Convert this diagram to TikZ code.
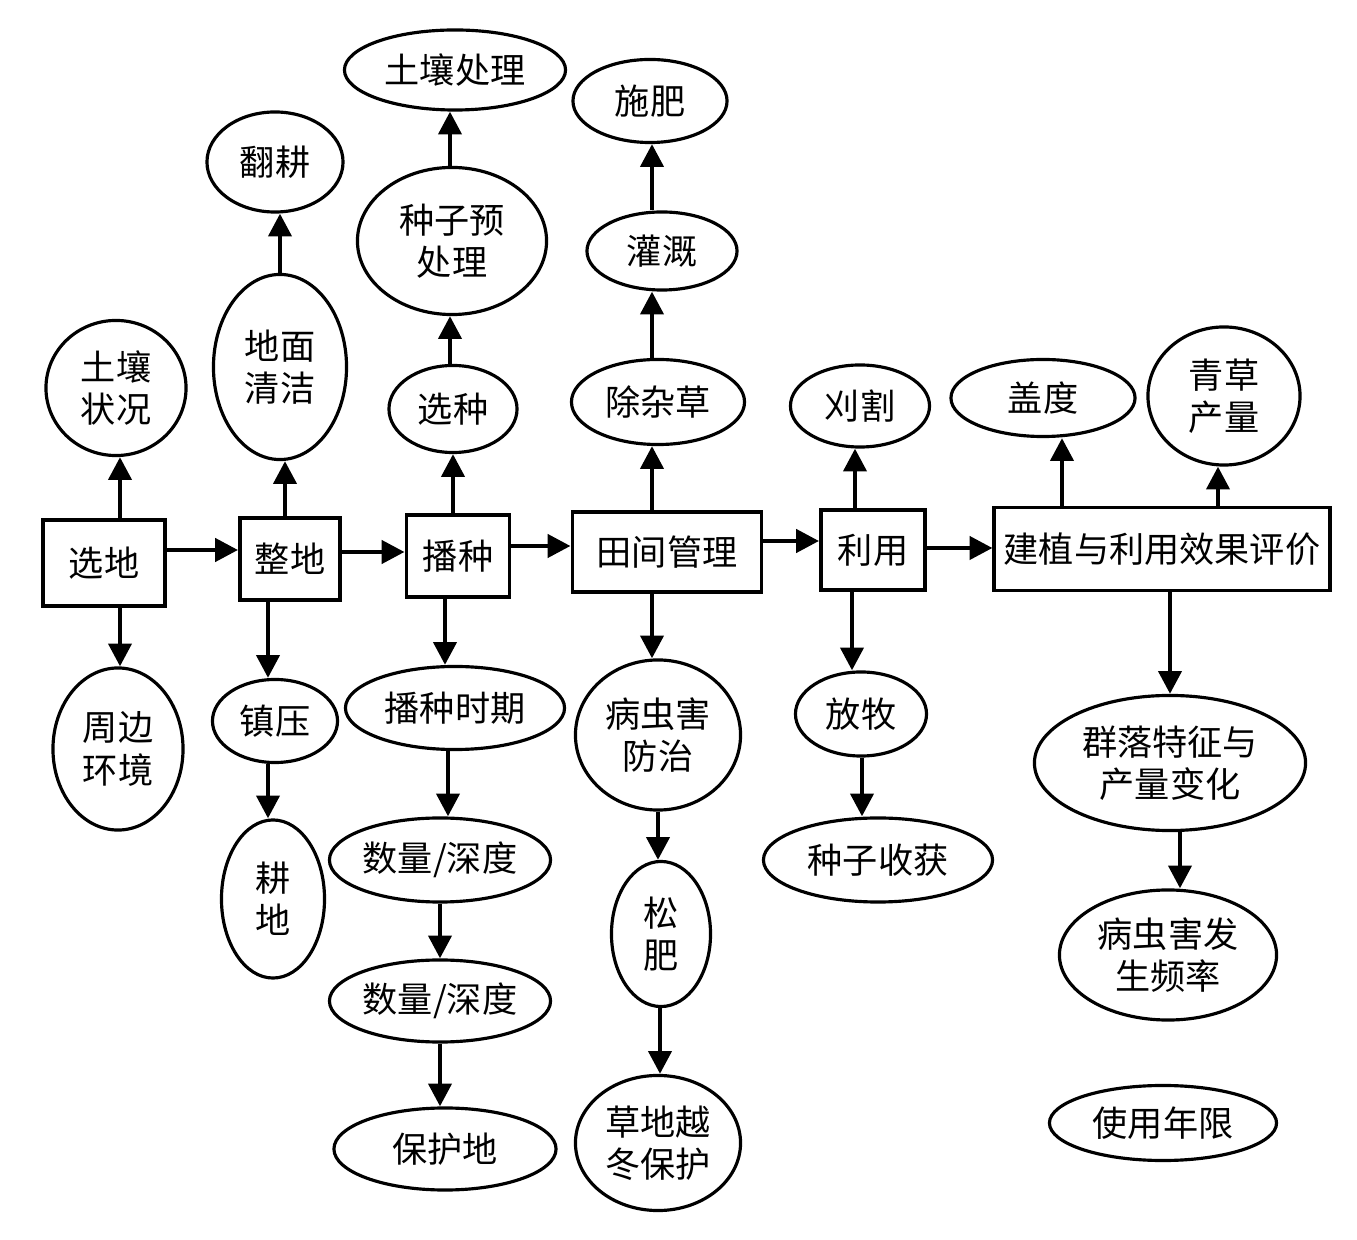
\documentclass[tikz,border=0pt]{standalone}
\usepackage{fontspec}
\setmainfont{Noto Sans CJK SC}
\usetikzlibrary{shapes.geometric,arrows.meta}
\begin{document}
\begin{tikzpicture}[x=0.01cm,y=-0.01cm,
  txt/.style={font=\fontsize{10pt}{12pt}\selectfont,align=center,inner sep=0pt,text=black},
  box/.style={txt,draw,line width=1.1pt,rectangle},
  ell/.style={txt,draw,line width=0.9pt,ellipse},
  arr/.style={line width=1.3pt,-{Triangle[length=6.5pt,width=6.5pt]}}]
\useasboundingbox[fill=white] (0,0) rectangle (1357,1240);
% boxes
\node[box,minimum width=1.22cm,minimum height=0.86cm] (xd) at (104,563) {选地};
\node[box,minimum width=1.00cm,minimum height=0.82cm] (zd) at (290,559) {整地};
\node[box,minimum width=1.03cm,minimum height=0.82cm] (bz) at (458,556) {播种};
\node[box,minimum width=1.89cm,minimum height=0.80cm] (tj) at (667,552) {田间管理};
\node[box,minimum width=1.04cm,minimum height=0.80cm] (ly) at (873,550) {利用};
\node[box,minimum width=3.35cm,minimum height=0.83cm] (jz) at (1162,549) {建植与利用效果评价};
% ellipses
\node[ell,minimum width=1.40cm,minimum height=1.35cm] (trzk) at (116,388) {土壤\\状况};
\node[ell,minimum width=1.30cm,minimum height=1.62cm] (zbhj) at (118,749) {周边\\环境};
\node[ell,minimum width=1.33cm,minimum height=1.85cm] (dmqj) at (280,367) {地面\\清洁};
\node[ell,minimum width=1.36cm,minimum height=1.00cm] (fg) at (275,162) {翻耕};
\node[ell,minimum width=1.25cm,minimum height=0.83cm] (zy) at (275,721) {镇压};
\node[ell,minimum width=1.03cm,minimum height=1.58cm] (gd) at (273,899) {耕\\地};
\node[ell,minimum width=1.28cm,minimum height=0.87cm] (xz) at (453,409) {选种};
\node[ell,minimum width=1.89cm,minimum height=1.47cm] (zzycl) at (452,241) {种子预\\处理};
\node[ell,minimum width=2.21cm,minimum height=0.80cm] (trcl) at (455,70) {土壤处理};
\node[ell,minimum width=2.19cm,minimum height=0.83cm] (bzsq) at (455,708) {播种时期};
\node[ell,minimum width=2.21cm,minimum height=0.84cm] (sl1) at (440,860) {数量/深度};
\node[ell,minimum width=2.21cm,minimum height=0.82cm] (sl2) at (440,1001) {数量/深度};
\node[ell,minimum width=2.22cm,minimum height=0.82cm] (bhd) at (445,1149) {保护地};
\node[ell,minimum width=1.73cm,minimum height=0.85cm] (czc) at (658,402) {除杂草};
\node[ell,minimum width=1.50cm,minimum height=0.78cm] (gg) at (662,251) {灌溉};
\node[ell,minimum width=1.54cm,minimum height=0.83cm] (sf) at (650,101) {施肥};
\node[ell,minimum width=1.65cm,minimum height=1.50cm] (bch) at (658,735) {病虫害\\防治};
\node[ell,minimum width=0.99cm,minimum height=1.45cm] (sfei) at (661,934) {松\\肥};
\node[ell,minimum width=1.65cm,minimum height=1.35cm] (cd) at (658,1143) {草地越\\冬保护};
\node[ell,minimum width=1.39cm,minimum height=0.82cm] (yg) at (860,406) {刈割};
\node[ell,minimum width=1.31cm,minimum height=0.84cm] (fm) at (861,714) {放牧};
\node[ell,minimum width=2.29cm,minimum height=0.84cm] (zzsh) at (878,860) {种子收获};
\node[ell,minimum width=1.84cm,minimum height=0.77cm] (gaidu) at (1043,398) {盖度};
\node[ell,minimum width=1.52cm,minimum height=1.38cm] (qccl) at (1224,396) {青草\\产量};
\node[ell,minimum width=2.71cm,minimum height=1.35cm] (qlbh) at (1170,763) {群落特征与\\产量变化};
\node[ell,minimum width=2.17cm,minimum height=1.30cm] (bcfs) at (1168,955) {病虫害发\\生频率};
\node[ell,minimum width=2.27cm,minimum height=0.75cm] (synx) at (1163,1123) {使用年限};
% horizontal arrows
\draw[arr] (xd.east |- 0,550) -- (zd.west |- 0,550);
\draw[arr] (zd.east |- 0,552) -- (bz.west |- 0,552);
\draw[arr] (bz.east |- 0,546) -- (tj.west |- 0,546);
\draw[arr] (tj.east |- 0,541) -- (ly.west |- 0,541);
\draw[arr] (ly.east |- 0,548) -- (jz.west |- 0,548);
% vertical arrows
\draw[arr] (xd.north -| 120,0) -- (trzk.south -| 120,0);
\draw[arr] (xd.south -| 120,0) -- (zbhj.north -| 120,0);
\draw[arr] (zd.north -| 285,0) -- (dmqj.south -| 285,0);
\draw[arr] (dmqj.north -| 280,0) -- (fg.south -| 280,0);
\draw[arr] (zd.south -| 268,0) -- (zy.north -| 268,0);
\draw[arr] (zy.south -| 268,0) -- (gd.north -| 268,0);
\draw[arr] (bz.north -| 453,0) -- (xz.south -| 453,0);
\draw[arr] (xz.north -| 450,0) -- (zzycl.south -| 450,0);
\draw[arr] (zzycl.north -| 450,0) -- (trcl.south -| 450,0);
\draw[arr] (bz.south -| 445,0) -- (bzsq.north -| 445,0);
\draw[arr] (bzsq.south -| 448,0) -- (sl1.north -| 448,0);
\draw[arr] (sl1.south -| 440,0) -- (sl2.north -| 440,0);
\draw[arr] (sl2.south -| 440,0) -- (bhd.north -| 440,0);
\draw[arr] (tj.north -| 652,0) -- (czc.south -| 652,0);
\draw[arr] (czc.north -| 652,0) -- (gg.south -| 652,0);
\draw[arr] (gg.north -| 652,0) -- (sf.south -| 652,0);
\draw[arr] (tj.south -| 652,0) -- (bch.north -| 652,0);
\draw[arr] (bch.south -| 658,0) -- (sfei.north -| 658,0);
\draw[arr] (sfei.south -| 660,0) -- (cd.north -| 660,0);
\draw[arr] (ly.north -| 855,0) -- (yg.south -| 855,0);
\draw[arr] (ly.south -| 852,0) -- (fm.north -| 852,0);
\draw[arr] (fm.south -| 862,0) -- (zzsh.north -| 862,0);
\draw[arr] (jz.north -| 1062,0) -- (gaidu.south -| 1062,0);
\draw[arr] (jz.north -| 1218,0) -- (qccl.south -| 1218,0);
\draw[arr] (jz.south -| 1170,0) -- (qlbh.north -| 1170,0);
\draw[arr] (qlbh.south -| 1180,0) -- (bcfs.north -| 1180,0);
\end{tikzpicture}
\end{document}
